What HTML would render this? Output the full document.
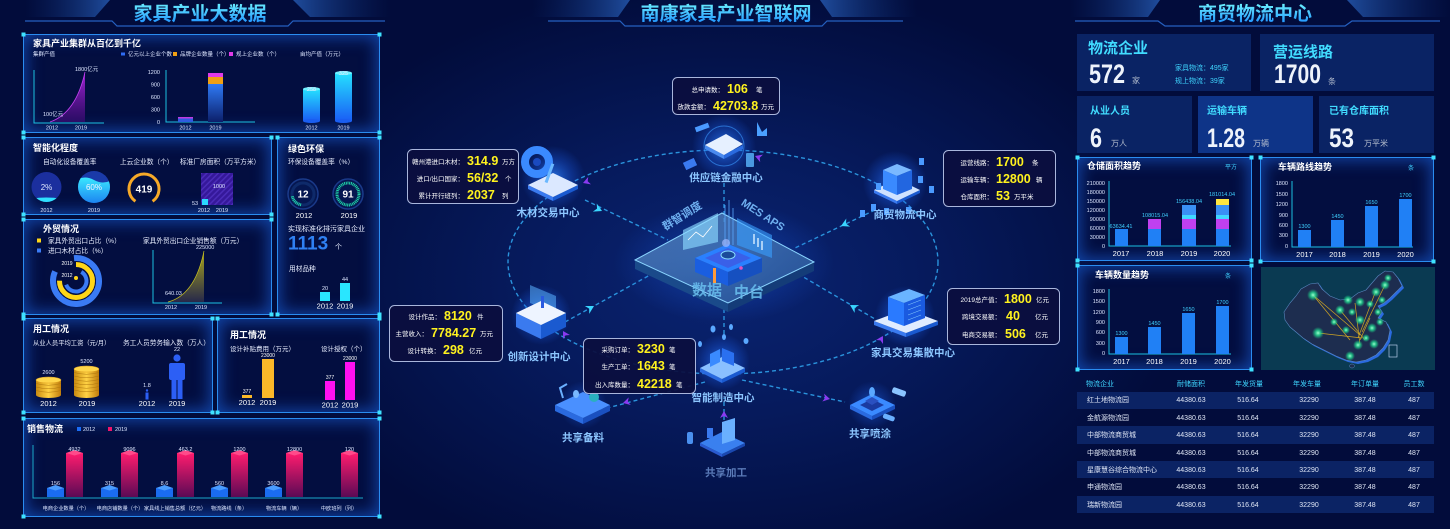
<!DOCTYPE html>
<html><head><meta charset="utf-8">
<style>
html,body{margin:0;padding:0;background:#020c3b;}
#r{position:relative;width:1450px;height:529px;overflow:hidden;background:radial-gradient(460px 300px at 724px 280px,#0a2472 0%,#061a5c 45%,#020c3b 100%);}
.p{position:absolute;box-sizing:border-box;border:1.5px solid #2a8cf0;background:#030e40;box-shadow:inset 0 0 16px 2px rgba(28,105,235,.6);}
.s{position:absolute;background:#0a2364;}
svg{position:absolute;left:0;top:0}
text{font-family:"Liberation Sans","Noto Sans CJK SC",sans-serif;}
.t{font-size:9px;font-weight:bold;fill:#fff}
.a{font-size:6.7px;fill:#e8eeff}
.b{font-size:5.5px;fill:#dde6ff}
.yy{font-size:12.5px;font-weight:bold;fill:#fff21e}
.w{font-size:6.5px;fill:#fff}
.nl{font-size:10.5px;fill:#8cc6ff;font-weight:bold}
.c{font-size:7px;fill:#3fd6ff}
.tw{font-size:7px;fill:#dfe6f6}
.big{font-size:27px;font-weight:bold;fill:#eef3fb}
.cy{fill:#41dcff;font-weight:bold}
.u{font-size:8px;fill:#b3bccd}
.yr{font-size:7.5px;fill:#fff}
.bx{fill:#0b0e3e;fill-opacity:.93;stroke:#a9b6dc;stroke-width:1}
.dl{stroke:#2a93dc;stroke-width:1.4;stroke-dasharray:4 3;fill:none}
.ax{stroke:#1bc0e0;stroke-width:1;fill:none}
.cn{fill:#3fe2ff}
</style></head><body><div id="r">
<div class="p" style="left:23px;top:34px;width:357px;height:99px"></div>
<div class="p" style="left:23px;top:137px;width:249px;height:78px"></div>
<div class="p" style="left:277px;top:137px;width:103px;height:178px"></div>
<div class="p" style="left:23px;top:219px;width:249px;height:96px"></div>
<div class="p" style="left:23px;top:318px;width:190px;height:95px"></div>
<div class="p" style="left:217px;top:318px;width:163px;height:95px"></div>
<div class="p" style="left:23px;top:418px;width:357px;height:99px"></div>
<div class="s" style="left:1077px;top:34px;width:174px;height:57px"></div>
<div class="s" style="left:1260px;top:34px;width:174px;height:57px"></div>
<div class="s" style="left:1077px;top:96px;width:115px;height:57px"></div>
<div class="s" style="left:1198px;top:96px;width:115px;height:57px;background:#0e3488"></div>
<div class="s" style="left:1319px;top:96px;width:115px;height:57px"></div>
<div class="p" style="left:1077px;top:157px;width:175px;height:104px"></div>
<div class="p" style="left:1260px;top:157px;width:174px;height:105px"></div>
<div class="p" style="left:1077px;top:265px;width:175px;height:105px"></div>
<div class="s" style="left:1261px;top:267px;width:174px;height:103px;background:#0a3a52"></div>
<div class="s" style="left:1077px;top:391.7px;width:357px;height:17.3px;background:#0b2364"></div>
<div class="s" style="left:1077px;top:426.3px;width:357px;height:17.3px;background:#0b2364"></div>
<div class="s" style="left:1077px;top:461px;width:357px;height:17.3px;background:#0b2364"></div>
<div class="s" style="left:1077px;top:495.6px;width:357px;height:17.3px;background:#0b2364"></div>

<svg width="1450" height="529" viewBox="0 0 1450 529">
<defs>
<linearGradient id="hl" x1="0" x2="1"><stop offset="0" stop-color="#0b2a6e" stop-opacity="0"/><stop offset="1" stop-color="#1f4c9c"/></linearGradient>
<linearGradient id="hr" x1="0" x2="1"><stop offset="0" stop-color="#1f4c9c"/><stop offset="1" stop-color="#0b2a6e" stop-opacity="0"/></linearGradient>
<linearGradient id="tt" x1="0" y1="0" x2="0" y2="1"><stop offset="0" stop-color="#6ef4ff"/><stop offset="1" stop-color="#1a8cff"/></linearGradient>
<linearGradient id="pg" x1="0" y1="0" x2="0" y2="1"><stop offset="0" stop-color="#a624d8"/><stop offset="1" stop-color="#3a0a72" stop-opacity=".7"/></linearGradient>
<linearGradient id="bb" x1="0" y1="0" x2="0" y2="1"><stop offset="0" stop-color="#2f7af5"/><stop offset="1" stop-color="#0c1f6a"/></linearGradient>
<linearGradient id="cyg" x1="0" y1="0" x2="0" y2="1"><stop offset="0" stop-color="#25e0ff"/><stop offset="1" stop-color="#1a5ef5"/></linearGradient>
<linearGradient id="yg" x1="0" y1="0" x2="0" y2="1"><stop offset="0" stop-color="#a8a41c"/><stop offset="1" stop-color="#26284a"/></linearGradient>
<linearGradient id="gold" x1="0" x2="1"><stop offset="0" stop-color="#c88a10"/><stop offset=".5" stop-color="#ffd244"/><stop offset="1" stop-color="#c07c0c"/></linearGradient>
<linearGradient id="pk" x1="0" y1="0" x2="0" y2="1"><stop offset="0" stop-color="#ff1c6e"/><stop offset="1" stop-color="#5a0a55"/></linearGradient>
<linearGradient id="wat" x1="0" y1="0" x2="0" y2="1"><stop offset="0" stop-color="#3ae8ff"/><stop offset="1" stop-color="#1a7cf0"/></linearGradient>
<linearGradient id="pf" x1="0" y1="0" x2="1" y2="1"><stop offset="0" stop-color="#5a8cc8" stop-opacity=".75"/><stop offset="1" stop-color="#2a5a9c" stop-opacity=".8"/></linearGradient>
<radialGradient id="glow"><stop offset="0" stop-color="#2f86ff" stop-opacity=".8"/><stop offset=".6" stop-color="#1a5ae0" stop-opacity=".35"/><stop offset="1" stop-color="#1a5ae0" stop-opacity="0"/></radialGradient>
<radialGradient id="gd"><stop offset="0" stop-color="#9affd0"/><stop offset=".45" stop-color="#22d890" stop-opacity=".8"/><stop offset="1" stop-color="#18c080" stop-opacity="0"/></radialGradient>
<pattern id="st" width="4" height="4" patternUnits="userSpaceOnUse" patternTransform="rotate(45)"><rect width="4" height="4" fill="#35189a"/><rect width="1.5" height="4" fill="#4a2cb8"/></pattern>
<clipPath id="c1"><circle cx="46.5" cy="187" r="15"/></clipPath>
<clipPath id="c2"><circle cx="94" cy="187" r="16"/></clipPath>
</defs>

<!-- headers -->
<polygon points="25,0 110,0 95,17 25,17" fill="url(#hl)"/>
<polygon points="293,0 390,0 390,17 310,17" fill="url(#hr)"/>
<polyline points="25,21 112,21 117,26 288,26 293,21 385,21" stroke="#2560c0" stroke-width="1.2" fill="none"/>
<polygon points="532,0 630,0 618,17 532,17" fill="url(#hl)"/>
<polygon points="820,0 917,0 917,17 832,17" fill="url(#hr)"/>
<polyline points="548,21 620,21 625,26 822,26 827,21 903,21" stroke="#2560c0" stroke-width="1.2" fill="none"/>
<polygon points="1070,0 1160,0 1148,17 1070,17" fill="url(#hl)"/>
<polygon points="1347,0 1450,0 1450,17 1363,17" fill="url(#hr)"/>
<polyline points="1075,21 1158,21 1165,26 1345,26 1352,21 1440,21" stroke="#2560c0" stroke-width="1.2" fill="none"/>
<text x="200" y="20" font-size="19" font-weight="bold" fill="url(#tt)" text-anchor="middle">家具产业大数据</text>
<text x="726" y="20" font-size="19" font-weight="bold" fill="url(#tt)" text-anchor="middle">南康家具产业智联网</text>
<text x="1255" y="20" font-size="19" font-weight="bold" fill="url(#tt)" text-anchor="middle">商贸物流中心</text>

<!-- corner squares -->
<g class="cn">
<rect x="21.5" y="32.5" width="4" height="4"/><rect x="377.5" y="32.5" width="4" height="4"/><rect x="21.5" y="130.5" width="4" height="4"/><rect x="377.5" y="130.5" width="4" height="4"/>
<rect x="21.5" y="135.5" width="4" height="4"/><rect x="269.5" y="135.5" width="4" height="4"/><rect x="21.5" y="212.5" width="4" height="4"/><rect x="269.5" y="212.5" width="4" height="4"/>
<rect x="275.5" y="135.5" width="4" height="4"/><rect x="377.5" y="135.5" width="4" height="4"/><rect x="275.5" y="312.5" width="4" height="4"/><rect x="377.5" y="312.5" width="4" height="4"/>
<rect x="21.5" y="217.5" width="4" height="4"/><rect x="269.5" y="217.5" width="4" height="4"/><rect x="21.5" y="312.5" width="4" height="4"/><rect x="269.5" y="312.5" width="4" height="4"/>
<rect x="21.5" y="316.5" width="4" height="4"/><rect x="210.5" y="316.5" width="4" height="4"/><rect x="21.5" y="410.5" width="4" height="4"/><rect x="210.5" y="410.5" width="4" height="4"/>
<rect x="215.5" y="316.5" width="4" height="4"/><rect x="377.5" y="316.5" width="4" height="4"/><rect x="215.5" y="410.5" width="4" height="4"/><rect x="377.5" y="410.5" width="4" height="4"/>
<rect x="21.5" y="416.5" width="4" height="4"/><rect x="377.5" y="416.5" width="4" height="4"/><rect x="21.5" y="514.5" width="4" height="4"/><rect x="377.5" y="514.5" width="4" height="4"/>
<rect x="1075.5" y="155.5" width="4" height="4"/><rect x="1249.5" y="155.5" width="4" height="4"/><rect x="1075.5" y="258.5" width="4" height="4"/><rect x="1249.5" y="258.5" width="4" height="4"/>
<rect x="1258.5" y="155.5" width="4" height="4"/><rect x="1431.5" y="155.5" width="4" height="4"/><rect x="1258.5" y="259.5" width="4" height="4"/><rect x="1431.5" y="259.5" width="4" height="4"/>
<rect x="1075.5" y="263.5" width="4" height="4"/><rect x="1249.5" y="263.5" width="4" height="4"/><rect x="1075.5" y="367.5" width="4" height="4"/><rect x="1249.5" y="367.5" width="4" height="4"/>
</g>

<!-- Panel 1 -->
<text x="33" y="46.5" class="t">家具产业集群从百亿到千亿</text>
<text x="33" y="56" class="b">集群产值</text>
<rect x="121" y="52.5" width="4" height="3" fill="#2f6bf2"/><text x="128" y="56" class="b">亿元以上企业个数</text>
<rect x="173" y="52" width="4" height="4" fill="#f0a014"/><text x="180" y="56" class="b">品牌企业数量（个）</text>
<rect x="229" y="52" width="4" height="4" fill="#e03ae8"/><text x="236" y="56" class="b">规上企业数（个）</text>
<text x="300" y="56" class="b">亩均产值（万元）</text>
<path d="M34,70 V123 H104" class="ax"/>
<path d="M50,122 Q76,113 85,72 L85,122 Z" fill="url(#pg)"/>
<path d="M50,122 Q76,113 85,72" stroke="#c040f0" stroke-width=".8" fill="none"/>
<text x="75" y="71" class="b">1800亿元</text>
<text x="43" y="116" class="b">100亿元</text>
<text x="52" y="129.5" class="b" text-anchor="middle">2012</text>
<text x="81" y="129.5" class="b" text-anchor="middle">2019</text>
<g class="b" text-anchor="end"><text x="160" y="74">1200</text><text x="160" y="86.5">900</text><text x="160" y="99">600</text><text x="160" y="111.5">300</text><text x="160" y="124">0</text></g>
<path d="M166,70 V122 H255" class="ax"/>
<rect x="178" y="117" width="15" height="5" fill="#2f5ce0"/><rect x="178" y="117" width="15" height="1.5" fill="#c03ae0"/>
<rect x="208" y="84" width="15" height="38" fill="url(#bb)"/><rect x="208" y="77" width="15" height="7" fill="#f0a014"/><rect x="208" y="73" width="15" height="4" fill="#e03ae8"/>
<text x="185.5" y="129.5" class="b" text-anchor="middle">2012</text><text x="215.5" y="129.5" class="b" text-anchor="middle">2019</text>
<rect x="303" y="89" width="17" height="32" fill="url(#cyg)"/><ellipse cx="311.5" cy="121" rx="8.5" ry="2" fill="#1a5ef0"/><ellipse cx="311.5" cy="89" rx="8.5" ry="2" fill="#6ff0ff"/>
<rect x="335" y="73" width="17" height="48" fill="url(#cyg)"/><ellipse cx="343.5" cy="121" rx="8.5" ry="2" fill="#1a5ef0"/><ellipse cx="343.5" cy="73" rx="8.5" ry="2" fill="#6ff0ff"/>
<text x="311.5" y="91" class="b" text-anchor="middle">258</text><text x="343.5" y="75" class="b" text-anchor="middle">325</text>
<text x="311.5" y="129.5" class="b" text-anchor="middle">2012</text><text x="343.5" y="129.5" class="b" text-anchor="middle">2019</text>

<!-- Panel 2 智能化程度 -->
<text x="33" y="151" class="t">智能化程度</text>
<text x="43" y="164" class="a">自动化设备覆盖率</text>
<text x="120" y="164" class="a">上云企业数（个）</text>
<text x="180" y="164" class="a">标准厂房面积（万平方米）</text>
<circle cx="46.5" cy="187" r="15" fill="#1b2f9e"/>
<path clip-path="url(#c1)" d="M30,199 Q46,196 63,199 V205 H30Z" fill="#2fe0ff"/>
<text x="46.5" y="190" font-size="8" fill="#dfe8ff" text-anchor="middle">2%</text>
<circle cx="94" cy="187" r="16" fill="#1a3aa8"/>
<path clip-path="url(#c2)" d="M76,180 Q85,175 94,180 T112,180 V205 H76 Z" fill="url(#wat)"/>
<text x="94" y="190" font-size="8" fill="#eef6ff" text-anchor="middle">60%</text>
<text x="46.5" y="212" class="b" text-anchor="middle">2012</text><text x="94" y="212" class="b" text-anchor="middle">2019</text>
<path d="M135.4,201.3 A15,15 0 1 1 152.6,201.3" stroke="#f7a928" stroke-width="3" fill="none"/>
<text x="144" y="192.5" font-size="10" font-weight="bold" fill="#fff" text-anchor="middle">419</text>
<rect x="201" y="173" width="32" height="32" fill="url(#st)"/>
<text x="219" y="188" class="b" text-anchor="middle">1000</text>
<rect x="202" y="199" width="6" height="6" fill="#2ad8ff"/>
<text x="192" y="205" class="b">53</text>
<text x="204" y="212" class="b" text-anchor="middle">2012</text><text x="222" y="212" class="b" text-anchor="middle">2019</text>

<!-- 绿色环保 -->
<text x="288" y="152" class="t">绿色环保</text>
<text x="288" y="164" class="a">环保设备覆盖率（%）</text>
<circle cx="303" cy="194" r="15" fill="#051650" stroke="#1a3a8a" stroke-width="1.5"/>
<circle cx="303" cy="194" r="11" fill="none" stroke="#0e2a6a" stroke-width="3"/>
<path d="M301.1,204.8 A11,11 0 0 1 292.2,195.9" stroke="#1fd6a8" stroke-width="3" stroke-dasharray="1 .7" fill="none"/>
<text x="303" y="197.5" font-size="10" font-weight="bold" fill="#fff" text-anchor="middle">12</text>
<circle cx="348" cy="194" r="15" fill="#051650" stroke="#1a3a8a" stroke-width="1.5"/>
<circle cx="348" cy="194" r="11" fill="none" stroke="#1fd6a8" stroke-width="3" stroke-dasharray="1 .7"/>
<text x="348" y="197.5" font-size="10" font-weight="bold" fill="#fff" text-anchor="middle">91</text>
<text x="304" y="218" class="yr" text-anchor="middle">2012</text><text x="349" y="218" class="yr" text-anchor="middle">2019</text>
<text x="288" y="231" font-size="7" fill="#e8eeff">实现标准化排污家具企业</text>
<text x="288" y="249.5" font-size="19" font-weight="bold" fill="#2f80f2">1113</text>
<text x="335" y="249" font-size="7" fill="#e8eeff">个</text>
<text x="289" y="271" class="a">用材品种</text>
<rect x="320" y="292" width="10" height="9" fill="#29e6ff"/><rect x="340" y="283" width="10" height="18" fill="#29e6ff"/>
<text x="325" y="290" class="b" text-anchor="middle">20</text><text x="345" y="281" class="b" text-anchor="middle">44</text>
<text x="325" y="308.5" class="yr" text-anchor="middle">2012</text><text x="345" y="308.5" class="yr" text-anchor="middle">2019</text>

<!-- 外贸情况 -->
<text x="43" y="232" class="t">外贸情况</text>
<rect x="37" y="238.5" width="4" height="4" fill="#ffd617"/><text x="48" y="243" class="a">家具外贸出口占比（%）</text>
<rect x="37" y="248.5" width="4" height="4" fill="#3a7bf5"/><text x="48" y="253" class="a">进口木材占比（%）</text>
<circle cx="76" cy="281" r="23" fill="none" stroke="#3a7bf5" stroke-width="6" stroke-dasharray="120 25" transform="rotate(-95 76 281)"/>
<circle cx="76" cy="281" r="16.5" fill="none" stroke="#ffd617" stroke-width="5" stroke-dasharray="78 26" transform="rotate(-90 76 281)"/>
<circle cx="76" cy="281" r="10.5" fill="none" stroke="#3a7bf5" stroke-width="4" stroke-dasharray="40 26" transform="rotate(-60 76 281)"/>
<circle cx="76" cy="278" r="2" fill="#ffd617"/>
<text x="67" y="265" font-size="5" fill="#fff" text-anchor="middle">2019</text>
<text x="67" y="277" font-size="5" fill="#fff" text-anchor="middle">2012</text>
<text x="143" y="243" class="a">家具外贸出口企业销售额（万元）</text>
<path d="M153,250 V303 H222" class="ax"/>
<path d="M168,302 Q195,295 204,251 L204,302 Z" fill="url(#yg)"/>
<path d="M168,302 Q195,295 204,251" stroke="#c8c020" stroke-width=".7" fill="none"/>
<text x="196" y="249" class="b">225000</text>
<text x="165" y="295" class="b">640.03</text>
<text x="171" y="309" class="b" text-anchor="middle">2012</text><text x="201" y="309" class="b" text-anchor="middle">2019</text>

<!-- 用工情况 1 -->
<text x="33" y="332" class="t">用工情况</text>
<text x="33" y="345" font-size="6.3" fill="#e8eeff">从业人员平均工资（元/月）</text>
<text x="123" y="345" class="a">务工人员劳务输入数（万人）</text>
<rect x="36" y="380" width="25" height="15" fill="url(#gold)"/><ellipse cx="48.5" cy="395" rx="12.5" ry="3" fill="url(#gold)"/>
<path d="M36,383.5 Q48.5,387 61,383.5 M36,387 Q48.5,390.5 61,387 M36,390.5 Q48.5,394 61,390.5" stroke="#b07810" stroke-width=".6" fill="none"/>
<ellipse cx="48.5" cy="380" rx="12.5" ry="3" fill="#ffd64a" stroke="#e0a020" stroke-width=".5"/>
<rect x="74" y="369" width="25" height="26" fill="url(#gold)"/><ellipse cx="86.5" cy="395" rx="12.5" ry="3" fill="url(#gold)"/>
<path d="M74,372.5 Q86.5,376 99,372.5 M74,376 Q86.5,379.5 99,376 M74,379.5 Q86.5,383 99,379.5 M74,383 Q86.5,386.5 99,383 M74,386.5 Q86.5,390 99,386.5 M74,390 Q86.5,393.5 99,390" stroke="#b07810" stroke-width=".6" fill="none"/>
<ellipse cx="86.5" cy="369" rx="12.5" ry="3" fill="#ffd64a" stroke="#e0a020" stroke-width=".5"/>
<text x="48.5" y="374" class="b" text-anchor="middle">2600</text><text x="86.5" y="363" class="b" text-anchor="middle">5200</text>
<text x="48.5" y="406" class="yr" text-anchor="middle">2012</text><text x="87" y="406" class="yr" text-anchor="middle">2019</text>
<g fill="#2c5ff5">
<circle cx="147" cy="390.5" r="1.2"/><rect x="145.5" y="392.5" width="3" height="7"/>
<circle cx="177" cy="358" r="3.6"/><rect x="169" y="363" width="16" height="17" rx="2"/><rect x="171.5" y="379" width="5" height="20"/><rect x="177.5" y="379" width="5" height="20"/>
</g>
<text x="147" y="387" class="b" text-anchor="middle">1.8</text><text x="177" y="351" class="b" text-anchor="middle">22</text>
<text x="147" y="406" class="yr" text-anchor="middle">2012</text><text x="177" y="406" class="yr" text-anchor="middle">2019</text>

<!-- 用工情况 2 -->
<text x="230" y="338" class="t">用工情况</text>
<text x="230" y="351" font-size="6.5" fill="#e8eeff">设计补贴费用（万元）</text>
<text x="321" y="351" font-size="6.5" fill="#e8eeff">设计授权（个）</text>
<rect x="242" y="395" width="10" height="3" fill="#fbb829"/><rect x="262" y="359" width="12" height="39" fill="#fbb829"/>
<text x="247" y="393" font-size="5" fill="#fff" text-anchor="middle">377</text><text x="268" y="357" font-size="5" fill="#fff" text-anchor="middle">23000</text>
<rect x="325" y="381" width="10" height="19" fill="#ff10f0"/><rect x="345" y="362" width="10" height="38" fill="#ff10f0"/>
<text x="330" y="379" font-size="5" fill="#fff" text-anchor="middle">377</text><text x="350" y="360" font-size="5" fill="#fff" text-anchor="middle">23000</text>
<text x="247" y="405" class="yr" text-anchor="middle">2012</text><text x="268" y="405" class="yr" text-anchor="middle">2019</text>
<text x="330" y="407.5" class="yr" text-anchor="middle">2012</text><text x="350" y="407.5" class="yr" text-anchor="middle">2019</text>

<!-- 销售物流 -->
<text x="27" y="432" class="t">销售物流</text>
<rect x="77" y="427" width="4" height="4" fill="#1a6cf5"/><text x="83" y="431" class="b">2012</text>
<rect x="108" y="427" width="4" height="4" fill="#f0146a"/><text x="115" y="431" class="b">2019</text>
<path d="M33,445 V498 H363" stroke="#1aa8c8" stroke-width="1" fill="none"/>
<g>
<rect x="47" y="488" width="17" height="9" fill="#1a6cf0"/><polygon points="47,488 55.5,485 64,488 55.5,490.5" fill="#4a9cff"/>
<rect x="101" y="488" width="17" height="9" fill="#1a6cf0"/><polygon points="101,488 109.5,485 118,488 109.5,490.5" fill="#4a9cff"/>
<rect x="156" y="488" width="17" height="9" fill="#1a6cf0"/><polygon points="156,488 164.5,485 173,488 164.5,490.5" fill="#4a9cff"/>
<rect x="211" y="488" width="17" height="9" fill="#1a6cf0"/><polygon points="211,488 219.5,485 228,488 219.5,490.5" fill="#4a9cff"/>
<rect x="265" y="488" width="17" height="9" fill="#1a6cf0"/><polygon points="265,488 273.5,485 282,488 273.5,490.5" fill="#4a9cff"/>
</g>
<g>
<rect x="66" y="453" width="17" height="44" fill="url(#pk)"/><polygon points="66,453 74.5,450 83,453 74.5,455.5" fill="#ff4a8a"/>
<rect x="121" y="453" width="17" height="44" fill="url(#pk)"/><polygon points="121,453 129.5,450 138,453 129.5,455.5" fill="#ff4a8a"/>
<rect x="177" y="453" width="17" height="44" fill="url(#pk)"/><polygon points="177,453 185.5,450 194,453 185.5,455.5" fill="#ff4a8a"/>
<rect x="231" y="453" width="17" height="44" fill="url(#pk)"/><polygon points="231,453 239.5,450 248,453 239.5,455.5" fill="#ff4a8a"/>
<rect x="286" y="453" width="17" height="44" fill="url(#pk)"/><polygon points="286,453 294.5,450 303,453 294.5,455.5" fill="#ff4a8a"/>
<rect x="341" y="453" width="17" height="44" fill="url(#pk)"/><polygon points="341,453 349.5,450 358,453 349.5,455.5" fill="#ff4a8a"/>
</g>
<g class="b" text-anchor="middle">
<text x="55.5" y="485">156</text><text x="109.5" y="485">315</text><text x="164.5" y="485">8.6</text><text x="219.5" y="485">560</text><text x="273.5" y="485">3600</text>
<text x="74.5" y="451">4932</text><text x="129.5" y="451">9096</text><text x="185.5" y="451">463.2</text><text x="239.5" y="451">1200</text><text x="294.5" y="451">12800</text><text x="349.5" y="451">120</text>
</g>
<g font-size="5.2" fill="#dde6ff" text-anchor="middle">
<text x="66" y="510">电商企业数量（个）</text><text x="120" y="510">电商店铺数量（个）</text><text x="175" y="510">家具线上销售总额（亿元）</text><text x="229" y="510">物流路线（条）</text><text x="284" y="510">物流车辆（辆）</text><text x="339" y="510">中欧班列（列）</text>
</g>

<!-- ===== CENTER ===== -->
<ellipse cx="723" cy="262" rx="215" ry="112" class="dl"/>
<path d="M585,200 L668,240 M875,210 L795,248 M565,322 L650,275 M880,322 L800,275 M724,183 V222 M724,302 V335 M705,382 L600,410 M742,380 L845,402 M724,420 V398" class="dl"/>
<g fill="#3ad6ff">
<path d="M0,0 L-8,-4.5 L-5.5,0 L-8,4.5 Z" transform="translate(602,211) rotate(25.7)"/>
<path d="M0,0 L-8,-4.5 L-5.5,0 L-8,4.5 Z" transform="translate(841,226) rotate(154.6)"/>
<path d="M0,0 L-8,-4.5 L-5.5,0 L-8,4.5 Z" transform="translate(594,306) rotate(-29)"/>
<path d="M0,0 L-8,-4.5 L-5.5,0 L-8,4.5 Z" transform="translate(850,305) rotate(-149.6)"/>
</g>
<g fill="#8a3af0">
<path d="M0,0 L-7,-4 L-5,0 L-7,4 Z" transform="translate(583,183) rotate(160)"/>
<path d="M0,0 L-7,-4 L-5,0 L-7,4 Z" transform="translate(755,156) rotate(-160)"/>
<path d="M0,0 L-7,-4 L-5,0 L-7,4 Z" transform="translate(563,331) rotate(-120)"/>
<path d="M0,0 L-7,-4 L-5,0 L-7,4 Z" transform="translate(883,336) rotate(-60)"/>
<path d="M0,0 L-7,-4 L-5,0 L-7,4 Z" transform="translate(623,403) rotate(165)"/>
<path d="M0,0 L-7,-4 L-5,0 L-7,4 Z" transform="translate(830,399) rotate(12)"/>
<path d="M0,0 L-7,-4 L-5,0 L-7,4 Z" transform="translate(724,411) rotate(-90)"/>
</g>

<!-- platform -->
<ellipse cx="724" cy="262" rx="110" ry="60" fill="url(#glow)" opacity=".6"/>
<polygon points="635,260 728,303 728,312 635,269" fill="#1a4a8a"/>
<polygon points="728,303 814,262 814,271 728,312" fill="#143c78"/>
<polygon points="635,260 722,213 814,262 728,303" fill="url(#pf)" stroke="#8ad4ff" stroke-width="1"/>
<polygon points="683,230 718,213 718,242 683,250" fill="#8ad8ff" opacity=".65"/>
<path d="M688,240 L696,232 L703,237 L712,226" stroke="#fff" stroke-width=".8" fill="none"/>
<polygon points="737,218 772,235 772,258 737,245" fill="#3aa0ff" opacity=".6"/>
<g stroke="#cfe8ff" stroke-width="1.5"><line x1="754" y1="234" x2="754" y2="244"/><line x1="758" y1="238" x2="758" y2="247"/><line x1="762" y1="241" x2="762" y2="250"/></g>
<g stroke="#5aa8ff" stroke-width=".8"><line x1="725" y1="205" x2="725" y2="245"/><line x1="729" y1="200" x2="729" y2="245"/><line x1="733" y1="208" x2="733" y2="245"/></g>
<polygon points="695,258 728,244 762,258 728,272" fill="#2a80ff"/>
<polygon points="695,258 728,272 728,286 695,272" fill="#1a5ee0"/>
<polygon points="728,272 762,258 762,272 728,286" fill="#1650c0"/>
<polygon points="705,258 728,248 751,258 728,268" fill="#3a60e8"/>
<ellipse cx="728" cy="255" rx="7" ry="4" fill="#1a4a9a" stroke="#8ae0ff" stroke-width="1"/>
<circle cx="726" cy="243" r="4" fill="#a0b8ff" opacity=".7"/>
<rect x="713" y="268" width="3" height="15" fill="#ff9a3a"/>
<circle cx="741" cy="268" r="1.8" fill="#e050c0"/>
<text transform="translate(684,219) rotate(-32)" text-anchor="middle" font-size="11" font-weight="bold" fill="#6fb0f0">群智调度</text>
<text transform="translate(761,218) rotate(33)" text-anchor="middle" font-size="11" font-weight="bold" fill="#6fb0f0">MES APS</text>
<text x="707" y="295" text-anchor="middle" font-size="15" font-weight="bold" fill="#6ac0f0" opacity=".85">数据</text>
<text x="749" y="297" text-anchor="middle" font-size="15" font-weight="bold" fill="#6ac0f0" opacity=".85">中台</text>

<!-- icons -->
<!-- 供应链金融 -->
<circle cx="724" cy="146" r="32" fill="url(#glow)"/>
<circle cx="724" cy="146" r="20" fill="none" stroke="#3a9aff" stroke-width="1" opacity=".6"/>
<polygon points="705,145 724,155 724,159 705,149" fill="#4a8aef"/><polygon points="724,155 743,145 743,149 724,159" fill="#2a6adf"/>
<polygon points="705,145 726,134 743,144 724,155" fill="#e6f0ff"/>
<rect x="695" y="125" width="14" height="5" fill="#4a9aff" transform="rotate(-20 702 127)"/>
<rect x="684" y="160" width="12" height="8" fill="#3a7aef" transform="rotate(-25 690 164)"/>
<path d="M757,122 v14 h10 v-8 l-5,4 z" fill="#4aa0ff"/>
<rect x="746" y="153" width="8" height="14" rx="1" fill="#5ab8ff" opacity=".8"/>
<!-- 木材交易 -->
<circle cx="553" cy="178" r="32" fill="url(#glow)"/>
<circle cx="537" cy="162" r="12" fill="none" stroke="#3a8aff" stroke-width="8"/>
<circle cx="537" cy="162" r="4" fill="#1a4ac0"/>
<polygon points="528,185 553,197 553,201 528,189" fill="#3a7aef"/><polygon points="553,197 578,185 578,189 553,201" fill="#1a5ad0"/>
<polygon points="528,185 553,173 578,185 553,197" fill="#dbe8ff"/>
<rect x="548" y="163" width="3" height="20" fill="#6ab8ff" transform="rotate(20 549 173)"/>
<!-- 商贸物流 -->
<circle cx="895" cy="183" r="32" fill="url(#glow)"/>
<polygon points="874,190 897,201 897,204 874,193" fill="#3a7aef"/><polygon points="897,201 920,190 920,193 897,204" fill="#1a5ad0"/>
<polygon points="874,190 897,179 920,190 897,201" fill="#cfe2ff"/>
<polygon points="883,170 897,164 912,170 897,176" fill="#7ab8ff"/>
<polygon points="883,170 897,176 897,195 883,189" fill="#3a8aff"/>
<polygon points="897,176 912,170 912,189 897,195" fill="#2266e0"/>
<g fill="#4a9aff"><rect x="919" y="158" width="5" height="7"/><rect x="918" y="176" width="5" height="7"/><rect x="929" y="186" width="5" height="7"/><rect x="876" y="183" width="5" height="7"/><rect x="871" y="204" width="5" height="7"/><rect x="884" y="208" width="5" height="7"/><rect x="906" y="207" width="5" height="7"/><rect x="860" y="210" width="5" height="7"/></g>
<!-- 创新设计 -->
<circle cx="541" cy="315" r="30" fill="url(#glow)"/>
<polygon points="530,285 556,296 556,314 530,303" fill="#5ab0ff" opacity=".55"/>
<polygon points="516,313 541,325 541,339 516,327" fill="#3a7aef"/><polygon points="541,325 566,313 566,327 541,339" fill="#1a5ad0"/>
<polygon points="516,313 541,301 566,313 541,325" fill="#eef4ff"/>
<rect x="541" y="296" width="3" height="12" fill="#2a5ae0"/>
<!-- 智能制造 -->
<circle cx="722" cy="362" r="28" fill="url(#glow)"/>
<polygon points="700,368 722,379 722,383 700,372" fill="#2a6adf"/><polygon points="722,379 745,368 745,372 722,383" fill="#1a5ad0"/>
<polygon points="700,368 722,357 745,368 722,379" fill="#8ac0ff"/>
<polygon points="710,354 720,349 720,362 710,367" fill="#3a8aff"/><polygon points="722,348 734,353 734,366 722,361" fill="#2a70f0"/>
<g fill="#5aa8ff"><ellipse cx="713" cy="329" rx="2.5" ry="3.5"/><ellipse cx="731" cy="327" rx="2" ry="3"/><ellipse cx="746" cy="341" rx="2.5" ry="3"/><ellipse cx="700" cy="344" rx="2" ry="3"/><ellipse cx="724" cy="337" rx="2" ry="3"/></g>
<!-- 家具交易集散 -->
<circle cx="905" cy="316" r="30" fill="url(#glow)"/>
<polygon points="874,321 906,333 906,337 874,325" fill="#3a7aef"/><polygon points="906,333 938,321 938,325 906,337" fill="#1a5ad0"/>
<polygon points="874,321 906,309 938,321 906,333" fill="#e0ecff"/>
<polygon points="888,297 909,289 925,295 904,303" fill="#6ab4ff"/>
<polygon points="888,297 904,303 904,326 888,320" fill="#2a7aff"/>
<polygon points="904,303 925,295 925,318 904,326" fill="#1a5ae0"/>
<g stroke="#8ad0ff" stroke-width=".5"><line x1="908" y1="305" x2="921" y2="300"/><line x1="908" y1="310" x2="921" y2="305"/><line x1="908" y1="315" x2="921" y2="310"/><line x1="908" y1="320" x2="921" y2="315"/></g>
<!-- 共享备料 -->
<circle cx="583" cy="405" r="24" fill="url(#glow)" opacity=".7"/>
<polygon points="555,405 583,418 583,424 555,411" fill="#2a6adf"/><polygon points="583,418 610,405 610,411 583,424" fill="#1a50c0"/>
<polygon points="555,405 583,392 610,405 583,418" fill="#4a90ff"/>
<circle cx="594" cy="397" r="5" fill="#2ab0c0"/>
<path d="M563,398 L560,388 L567,384" stroke="#6ab0ff" stroke-width="2" fill="none"/>
<ellipse cx="576" cy="394" rx="3" ry="4" fill="#7ab8ff"/>
<!-- 共享加工 -->
<polygon points="700,443 722,454 722,457 700,446" fill="#2a5ad0"/><polygon points="722,454 745,443 745,446 722,457" fill="#1a48b0"/>
<polygon points="700,443 722,432 745,443 722,454" fill="#3a80ef"/>
<polygon points="722,422 735,418 735,440 722,444" fill="#6ab0ff"/>
<rect x="687" y="432" width="6" height="12" rx="2" fill="#4a90ef"/>
<rect x="707" y="428" width="6" height="10" fill="#3a7aef"/>
<!-- 共享喷涂 -->
<circle cx="872" cy="405" r="24" fill="url(#glow)" opacity=".7"/>
<polygon points="850,405 872,416 872,420 850,409" fill="#2a6adf"/><polygon points="872,416 895,405 895,409 872,420" fill="#1a50c0"/>
<polygon points="850,405 872,394 895,405 872,416" fill="#3a8aff"/>
<polygon points="860,405 872,399 884,405 872,411" fill="#1a3aa0"/>
<polygon points="865,401 872,397 879,401 872,405" fill="#2a50c0"/>
<ellipse cx="872" cy="392" rx="3" ry="5" fill="#5aa8ff"/>
<rect x="892" y="389" width="14" height="6" rx="2" fill="#8ac4ff" transform="rotate(20 899 392)"/>
<rect x="883" y="415" width="12" height="5" rx="2" fill="#6ab0ff" transform="rotate(20 889 417)"/>

<!-- node labels -->
<g class="nl" text-anchor="middle">
<text x="726" y="181">供应链金融中心</text>
<text x="548" y="216">木材交易中心</text>
<text x="905" y="218">商贸物流中心</text>
<text x="539" y="360">创新设计中心</text>
<text x="723" y="401">智能制造中心</text>
<text x="913" y="356">家具交易集散中心</text>
<text x="583" y="441">共享备料</text>
<text x="726" y="476" fill="#5a7ab8">共享加工</text>
<text x="870" y="437">共享喷涂</text>
</g>

<!-- info boxes -->
<rect x="672.5" y="77.5" width="107" height="37" rx="5" class="bx"/>
<text x="724" y="92" class="w" text-anchor="end">总申请数：</text><text x="727" y="93" class="yy">106</text><text x="756" y="92" class="w">笔</text>
<text x="710" y="109" class="w" text-anchor="end">放款金额：</text><text x="713" y="110" class="yy">42703.8</text><text x="761" y="109" class="w">万元</text>

<rect x="407.5" y="149.5" width="111" height="54" rx="5" class="bx"/>
<text x="464" y="164" class="w" text-anchor="end">赣州港进口木材：</text><text x="467" y="165" class="yy">314.9</text><text x="502" y="164" class="w">万方</text>
<text x="464" y="181" class="w" text-anchor="end">进口/出口国家：</text><text x="467" y="182" class="yy">56/32</text><text x="505" y="181" class="w">个</text>
<text x="464" y="198" class="w" text-anchor="end">累计开行班列：</text><text x="467" y="199" class="yy">2037</text><text x="502" y="198" class="w">列</text>

<rect x="943.5" y="150.5" width="112" height="56" rx="5" class="bx"/>
<text x="993" y="165" class="w" text-anchor="end">运营线路：</text><text x="996" y="166" class="yy">1700</text><text x="1032" y="165" class="w">条</text>
<text x="993" y="182" class="w" text-anchor="end">运输车辆：</text><text x="996" y="183" class="yy">12800</text><text x="1036" y="182" class="w">辆</text>
<text x="993" y="199" class="w" text-anchor="end">仓库面积：</text><text x="996" y="200" class="yy">53</text><text x="1014" y="199" class="w">万平米</text>

<rect x="389.5" y="305.5" width="113" height="56" rx="5" class="bx"/>
<text x="441" y="319" class="w" text-anchor="end">设计作品：</text><text x="444" y="320" class="yy">8120</text><text x="477" y="319" class="w">件</text>
<text x="428" y="336" class="w" text-anchor="end">主营收入：</text><text x="431" y="337" class="yy">7784.27</text><text x="480" y="336" class="w">万元</text>
<text x="440" y="353" class="w" text-anchor="end">设计转换：</text><text x="443" y="354" class="yy">298</text><text x="469" y="353" class="w">亿元</text>

<rect x="583.5" y="338.5" width="112" height="55" rx="5" class="bx"/>
<text x="634" y="352" class="w" text-anchor="end">采购订单：</text><text x="637" y="353" class="yy">3230</text><text x="669" y="352" class="w">笔</text>
<text x="634" y="369" class="w" text-anchor="end">生产工单：</text><text x="637" y="370" class="yy">1643</text><text x="669" y="369" class="w">笔</text>
<text x="634" y="387" class="w" text-anchor="end">出入库数量：</text><text x="637" y="388" class="yy">42218</text><text x="676" y="387" class="w">笔</text>

<rect x="947.5" y="288.5" width="112" height="56" rx="5" class="bx"/>
<text x="1001" y="302" class="w" text-anchor="end">2019总产值：</text><text x="1004" y="303" class="yy">1800</text><text x="1036" y="302" class="w">亿元</text>
<text x="1001" y="319" class="w" text-anchor="end">跨境交易额：</text><text x="1006" y="320" class="yy">40</text><text x="1035" y="319" class="w">亿元</text>
<text x="1001" y="337" class="w" text-anchor="end">电商交易额：</text><text x="1005" y="338" class="yy">506</text><text x="1035" y="337" class="w">亿元</text>

<!-- ===== RIGHT ===== -->
<text x="1088" y="53" font-size="15" class="cy">物流企业</text>
<text x="1089" y="83" class="big" textLength="36" lengthAdjust="spacingAndGlyphs">572</text>
<text x="1132" y="83" class="u">家</text>
<text x="1175" y="70" class="c">家具物流：495家</text>
<text x="1175" y="83" class="c">规上物流：39家</text>
<text x="1273" y="57" font-size="15" class="cy">营运线路</text>
<text x="1274" y="83" class="big" textLength="47" lengthAdjust="spacingAndGlyphs">1700</text>
<text x="1328" y="84" class="u">条</text>
<text x="1090" y="114" font-size="10" class="cy">从业人员</text>
<text x="1090" y="147" class="big" textLength="12" lengthAdjust="spacingAndGlyphs">6</text>
<text x="1111" y="146" class="u">万人</text>
<text x="1207" y="114" font-size="10" class="cy">运输车辆</text>
<text x="1207" y="147" class="big" textLength="38" lengthAdjust="spacingAndGlyphs">1.28</text>
<text x="1253" y="146" class="u">万辆</text>
<text x="1329" y="114" font-size="10" class="cy">已有仓库面积</text>
<text x="1329" y="147" class="big" textLength="25" lengthAdjust="spacingAndGlyphs">53</text>
<text x="1364" y="146" class="u">万平米</text>

<!-- 仓储面积趋势 -->
<text x="1087" y="169" class="t">仓储面积趋势</text>
<text x="1225" y="169" font-size="6" fill="#3fd0ff">平方</text>
<g class="b" text-anchor="end"><text x="1105" y="185">210000</text><text x="1105" y="194">180000</text><text x="1105" y="203">150000</text><text x="1105" y="212">120000</text><text x="1105" y="221">90000</text><text x="1105" y="230">60000</text><text x="1105" y="239">30000</text><text x="1105" y="248">0</text></g>
<path d="M1109,181 V246 H1231" class="ax"/>
<rect x="1115" y="229" width="13" height="17" fill="#2080f5"/>
<rect x="1148" y="229" width="13" height="17" fill="#2080f5"/><rect x="1148" y="219" width="13" height="10" fill="#c040f0"/>
<rect x="1182" y="229" width="14" height="17" fill="#2080f5"/><rect x="1182" y="219" width="14" height="10" fill="#c040f0"/><rect x="1182" y="215" width="14" height="4" fill="#40d8ff"/><rect x="1182" y="205" width="14" height="10" fill="#3a90f5"/>
<rect x="1216" y="229" width="13" height="17" fill="#2080f5"/><rect x="1216" y="219" width="13" height="10" fill="#c040f0"/><rect x="1216" y="215" width="13" height="4" fill="#40d8ff"/><rect x="1216" y="205" width="13" height="10" fill="#3a90f5"/><rect x="1216" y="199" width="13" height="6" fill="#ffe640"/>
<g font-size="5.5" fill="#3fd0ff" text-anchor="middle"><text x="1121" y="228">63634.41</text><text x="1155" y="217">108015.04</text><text x="1189" y="203">156438.04</text><text x="1222" y="196">181014.04</text></g>
<g class="yr" text-anchor="middle"><text x="1121" y="256">2017</text><text x="1155" y="256">2018</text><text x="1189" y="256">2019</text><text x="1222" y="256">2020</text></g>

<!-- 车辆路线趋势 -->
<text x="1278" y="170" class="t">车辆路线趋势</text>
<text x="1408" y="170" font-size="6" fill="#3fd0ff">条</text>
<g class="b" text-anchor="end"><text x="1288" y="185">1800</text><text x="1288" y="196">1500</text><text x="1288" y="206">1200</text><text x="1288" y="217">900</text><text x="1288" y="227">600</text><text x="1288" y="237">300</text><text x="1288" y="248">0</text></g>
<path d="M1292,181 V247 H1413" class="ax"/>
<rect x="1298" y="230" width="13" height="17" fill="#2080f5"/><rect x="1331" y="220" width="13" height="27" fill="#2080f5"/><rect x="1365" y="206" width="13" height="41" fill="#2080f5"/><rect x="1399" y="199" width="13" height="48" fill="#2080f5"/>
<g font-size="5.5" fill="#3fd0ff" text-anchor="middle"><text x="1304.5" y="228">1300</text><text x="1337.5" y="218">1450</text><text x="1371.5" y="204">1650</text><text x="1405.5" y="197">1700</text></g>
<g class="yr" text-anchor="middle"><text x="1304.5" y="257">2017</text><text x="1337.5" y="257">2018</text><text x="1371.5" y="257">2019</text><text x="1405.5" y="257">2020</text></g>

<!-- 车辆数量趋势 -->
<text x="1095" y="278" class="t">车辆数量趋势</text>
<text x="1225" y="278" font-size="6" fill="#3fd0ff">条</text>
<g class="b" text-anchor="end"><text x="1105" y="293">1800</text><text x="1105" y="303">1500</text><text x="1105" y="314">1200</text><text x="1105" y="324">900</text><text x="1105" y="334">600</text><text x="1105" y="345">300</text><text x="1105" y="355">0</text></g>
<path d="M1109,289 V354 H1231" class="ax"/>
<rect x="1115" y="337" width="13" height="17" fill="#2080f5"/><rect x="1148" y="327" width="13" height="27" fill="#2080f5"/><rect x="1182" y="313" width="13" height="41" fill="#2080f5"/><rect x="1216" y="306" width="13" height="48" fill="#2080f5"/>
<g font-size="5.5" fill="#3fd0ff" text-anchor="middle"><text x="1121.5" y="335">1300</text><text x="1154.5" y="325">1450</text><text x="1188.5" y="311">1650</text><text x="1222.5" y="304">1700</text></g>
<g class="yr" text-anchor="middle"><text x="1121.5" y="364">2017</text><text x="1154.5" y="364">2018</text><text x="1188.5" y="364">2019</text><text x="1222.5" y="364">2020</text></g>

<!-- map -->
<polygon transform="translate(2,2)" fill="#2a6ae0" points="1284,312 1290,303 1296,296 1301,289 1310,284 1318,283 1322,289 1330,296 1340,300 1350,299 1358,293 1366,290 1372,283 1378,276 1385,271 1393,272 1398,278 1402,286 1396,292 1390,298 1384,303 1378,306 1382,312 1378,318 1386,322 1390,330 1388,340 1383,348 1376,355 1366,360 1356,362 1346,360 1336,356 1328,352 1320,348 1312,344 1303,338 1296,332 1290,327 1285,320"/>
<polygon fill="#1d2d4f" stroke="#5a88c0" stroke-width=".6" points="1284,312 1290,303 1296,296 1301,289 1310,284 1318,283 1322,289 1330,296 1340,300 1350,299 1358,293 1366,290 1372,283 1378,276 1385,271 1393,272 1398,278 1402,286 1396,292 1390,298 1384,303 1378,306 1382,312 1378,318 1386,322 1390,330 1388,340 1383,348 1376,355 1366,360 1356,362 1346,360 1336,356 1328,352 1320,348 1312,344 1303,338 1296,332 1290,327 1285,320"/>
<ellipse cx="1352" cy="366" rx="2.5" ry="2" fill="#1d2d4f" stroke="#5a88c0" stroke-width=".5"/>
<g stroke="#e0b020" stroke-width=".7" fill="none" opacity=".9">
<path d="M1313,295 L1360,335 M1313,295 L1350,340 M1318,333 L1362,338 M1340,310 L1365,340 M1355,303 L1360,345 M1375,293 L1358,338 M1385,285 L1362,332 M1370,318 L1360,340"/>
</g>
<g fill="url(#gd)">
<circle cx="1313" cy="295" r="6"/><circle cx="1318" cy="333" r="6"/><circle cx="1340" cy="310" r="5"/><circle cx="1348" cy="300" r="5"/><circle cx="1360" cy="302" r="5"/><circle cx="1370" cy="304" r="4"/><circle cx="1376" cy="292" r="5"/><circle cx="1385" cy="285" r="5"/><circle cx="1388" cy="278" r="4"/><circle cx="1382" cy="300" r="4"/><circle cx="1360" cy="320" r="5"/><circle cx="1372" cy="328" r="5"/><circle cx="1380" cy="322" r="4"/><circle cx="1358" cy="345" r="5"/><circle cx="1374" cy="344" r="5"/><circle cx="1350" cy="356" r="5"/><circle cx="1346" cy="330" r="4"/><circle cx="1366" cy="338" r="4"/><circle cx="1352" cy="312" r="4"/><circle cx="1378" cy="312" r="4"/><circle cx="1334" cy="322" r="4"/></g>
<rect x="1389" y="345" width="8" height="12" fill="none" stroke="#cfe0ff" stroke-width=".6"/>

<!-- table -->
<g class="c" font-size="7">
<text x="1086" y="386">物流企业</text>
<text x="1191" y="386" text-anchor="middle">耐储面积</text>
<text x="1249" y="386" text-anchor="middle">年发货量</text>
<text x="1307" y="386" text-anchor="middle">年发车量</text>
<text x="1365" y="386" text-anchor="middle">年订单量</text>
<text x="1414" y="386" text-anchor="middle">员工数</text>
</g>
<g class="tw">
<text x="1087" y="402">红土地物流园</text>
<text x="1087" y="420">金航源物流园</text>
<text x="1087" y="437">中部物流商贸城</text>
<text x="1087" y="455">中部物流商贸城</text>
<text x="1087" y="472">星康慧谷综合物流中心</text>
<text x="1087" y="489">申通物流园</text>
<text x="1087" y="507">瑞新物流园</text>
</g>
<g class="tw" text-anchor="middle">
<text x="1191" y="402">44380.63</text><text x="1248" y="402">516.64</text><text x="1309" y="402">32290</text><text x="1365" y="402">387.48</text><text x="1414" y="402">487</text>
<text x="1191" y="420">44380.63</text><text x="1248" y="420">516.64</text><text x="1309" y="420">32290</text><text x="1365" y="420">387.48</text><text x="1414" y="420">487</text>
<text x="1191" y="437">44380.63</text><text x="1248" y="437">516.64</text><text x="1309" y="437">32290</text><text x="1365" y="437">387.48</text><text x="1414" y="437">487</text>
<text x="1191" y="455">44380.63</text><text x="1248" y="455">516.64</text><text x="1309" y="455">32290</text><text x="1365" y="455">387.48</text><text x="1414" y="455">487</text>
<text x="1191" y="472">44380.63</text><text x="1248" y="472">516.64</text><text x="1309" y="472">32290</text><text x="1365" y="472">387.48</text><text x="1414" y="472">487</text>
<text x="1191" y="489">44380.63</text><text x="1248" y="489">516.64</text><text x="1309" y="489">32290</text><text x="1365" y="489">387.48</text><text x="1414" y="489">487</text>
<text x="1191" y="507">44380.63</text><text x="1248" y="507">516.64</text><text x="1309" y="507">32290</text><text x="1365" y="507">387.48</text><text x="1414" y="507">487</text>
</g>
</svg>
</div></body></html>
